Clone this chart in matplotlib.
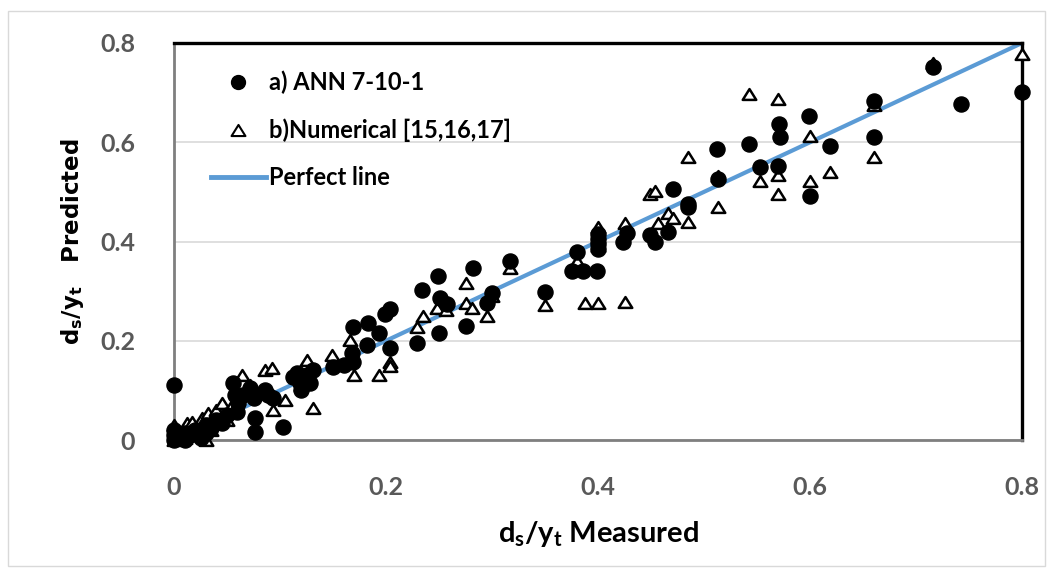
import matplotlib
matplotlib.use("Agg")
import matplotlib.pyplot as plt
from matplotlib.lines import Line2D
from matplotlib.patches import Rectangle
from matplotlib.path import Path

# a) ANN 7-10-1 predictions
ann_x = [0.0, 0.0, 0.0, 0.005, 0.01, 0.01, 0.015, 0.02, 0.025, 0.03, 0.03, 0.035,
         0.04, 0.045, 0.05, 0.0,
         0.056, 0.058, 0.06, 0.059, 0.065, 0.072, 0.075, 0.076, 0.076, 0.086,
         0.089, 0.093, 0.103, 0.112, 0.116, 0.119, 0.12, 0.125, 0.128, 0.131,
         0.15, 0.16, 0.168, 0.169, 0.169, 0.182, 0.183, 0.193, 0.199, 0.204,
         0.204, 0.229, 0.234, 0.249, 0.251, 0.258, 0.25, 0.275, 0.282, 0.295,
         0.3, 0.317, 0.35, 0.375, 0.38, 0.386, 0.399, 0.4, 0.4, 0.4, 0.4,
         0.424, 0.427, 0.449, 0.454, 0.466, 0.471, 0.485, 0.485, 0.512, 0.513,
         0.542, 0.553, 0.571, 0.572, 0.57, 0.599, 0.6, 0.619, 0.66, 0.66,
         0.716, 0.742, 0.8]
ann_y = [0.0, 0.01, 0.02, 0.005, 0.0, 0.015, 0.01, 0.02, 0.005, 0.015, 0.03, 0.025,
         0.04, 0.035, 0.05, 0.111,
         0.115, 0.09, 0.075, 0.057, 0.09, 0.105, 0.085, 0.044, 0.016, 0.101,
         0.091, 0.085, 0.026, 0.127, 0.135, 0.115, 0.1, 0.13, 0.115, 0.141,
         0.148, 0.152, 0.176, 0.158, 0.228, 0.192, 0.236, 0.216, 0.253, 0.263,
         0.186, 0.196, 0.303, 0.331, 0.287, 0.275, 0.216, 0.23, 0.347, 0.277,
         0.297, 0.36, 0.299, 0.34, 0.378, 0.34, 0.34, 0.385, 0.395, 0.405, 0.415,
         0.4, 0.418, 0.414, 0.4, 0.42, 0.505, 0.475, 0.469, 0.586, 0.525,
         0.596, 0.55, 0.636, 0.61, 0.552, 0.653, 0.491, 0.592, 0.683, 0.61,
         0.751, 0.677, 0.701]

# b) Numerical [15,16,17] predictions
num_x = [0.0, 0.0, 0.005, 0.01, 0.012, 0.017, 0.02, 0.026, 0.03, 0.032, 0.035,
         0.04, 0.045, 0.05, 0.055, 0.064, 0.072, 0.086, 0.092, 0.093, 0.105,
         0.12, 0.125, 0.131, 0.149, 0.166, 0.17, 0.193, 0.204, 0.204, 0.229,
         0.235, 0.248, 0.257, 0.275, 0.275, 0.281, 0.295, 0.3, 0.317, 0.35,
         0.38, 0.388, 0.4, 0.4, 0.4, 0.4, 0.425, 0.425, 0.449, 0.454, 0.457,
         0.466, 0.471, 0.485, 0.485, 0.513, 0.513, 0.542, 0.553, 0.57, 0.57,
         0.57, 0.6, 0.6, 0.619, 0.66, 0.66, 0.716, 0.8]
num_y = [0.0, 0.03, 0.01, 0.005, 0.035, 0.036, 0.01, 0.044, 0.0, 0.054, 0.02,
         0.06, 0.074, 0.04, 0.07, 0.131, 0.11, 0.141, 0.145, 0.06, 0.081,
         0.11, 0.162, 0.065, 0.172, 0.202, 0.13, 0.131, 0.158, 0.15, 0.228,
         0.249, 0.267, 0.262, 0.317, 0.277, 0.267, 0.249, 0.29, 0.347, 0.273,
         0.36, 0.277, 0.277, 0.43, 0.41, 0.39, 0.279, 0.438, 0.495, 0.501, 0.438,
         0.458, 0.448, 0.44, 0.57, 0.469, 0.531, 0.697, 0.521, 0.687, 0.535,
         0.495, 0.612, 0.521, 0.541, 0.675, 0.57, 0.76, 0.778]

# Perfect agreement line
line_x = [0.0, 0.8]
line_y = [0.0, 0.8]

ticks = [0.0, 0.2, 0.4, 0.6, 0.8]
tick_labels = ["0", "0.2", "0.4", "0.6", "0.8"]

plt.rcParams["mathtext.fontset"] = "custom"
plt.rcParams["mathtext.rm"] = "Lato:bold"
plt.rcParams["mathtext.it"] = "Lato:bold"
plt.rcParams["mathtext.bf"] = "Lato:bold"
plt.rcParams["mathtext.sf"] = "DejaVu Sans:bold"

W, H = 1052, 571
fig = plt.figure(figsize=(W / 100, H / 100), dpi=100)
fig.patches.append(Rectangle((8 / W, 5 / H), 1037 / W, 555 / H, transform=fig.transFigure,
                             fill=False, edgecolor="#d9d9d9", linewidth=1.0))

ax = fig.add_axes([174 / W, 1 - 440 / H, 848 / W, 397 / H])
ax.set_xlim(0, 0.8)
ax.set_ylim(0, 0.8)

ax.set_yticks(ticks)
ax.set_xticks(ticks)
ax.set_yticklabels(tick_labels)
ax.set_xticklabels(tick_labels)
for lab in ax.get_xticklabels() + ax.get_yticklabels():
    lab.set_fontfamily("Lato")
    lab.set_fontweight("bold")
    lab.set_fontsize(18)
    lab.set_color("#595959")
ax.tick_params(axis="both", length=0)
ax.tick_params(axis="x", pad=26)
ax.tick_params(axis="y", pad=28)

ax.grid(axis="y", color="#d9d9d9", linewidth=1.2)
ax.set_axisbelow(True)

for side in ("top", "right"):
    ax.spines[side].set_color("black")
    ax.spines[side].set_linewidth(2.4)
for side in ("left", "bottom"):
    ax.spines[side].set_color("#7f7f7f")
    ax.spines[side].set_linewidth(2.0)

tri = Path([(-1.0, -0.8), (1.0, -0.8), (0.0, 0.8), (-1.0, -0.8)],
           [Path.MOVETO, Path.LINETO, Path.LINETO, Path.CLOSEPOLY])

ax.plot(line_x, line_y, color="#5b9bd5", linewidth=3.0, zorder=2,
        solid_capstyle="butt")
ax.scatter(num_x, num_y, marker=tri, s=95, facecolor="white",
           edgecolor="black", linewidths=1.8, zorder=3, clip_on=False)
ax.scatter(ann_x, ann_y, marker="o", s=118, color="black", zorder=4,
           clip_on=False)

handles = [
    Line2D([], [], marker="o", color="black", linestyle="none", markersize=10),
    Line2D([], [], marker=tri, markerfacecolor="white", markeredgecolor="black",
           markeredgewidth=1.5, linestyle="none", markersize=10),
    Line2D([], [], color="#5b9bd5", linewidth=3.5),
]
labels = ["a) ANN 7-10-1", "b)Numerical [15,16,17]", "Perfect line"]
ax.legend(handles, labels, loc="upper left", bbox_to_anchor=(0.044, 0.93),
          frameon=False, borderpad=0, borderaxespad=0, handlelength=2.3,
          handletextpad=0.15, labelspacing=1.02,
          prop={"family": "Lato", "weight": "bold", "size": 17})

ax.set_xlabel(r"$d_s/y_t$ Measured", fontfamily="Lato", fontweight="bold",
              fontsize=21, labelpad=14)
ax.set_ylabel(r"$\mathsf{d_s/y_t}$   Predicted", fontfamily="DejaVu Sans",
              fontweight="bold", fontsize=16.5, labelpad=10)

fig.savefig("out.png", dpi=100)
